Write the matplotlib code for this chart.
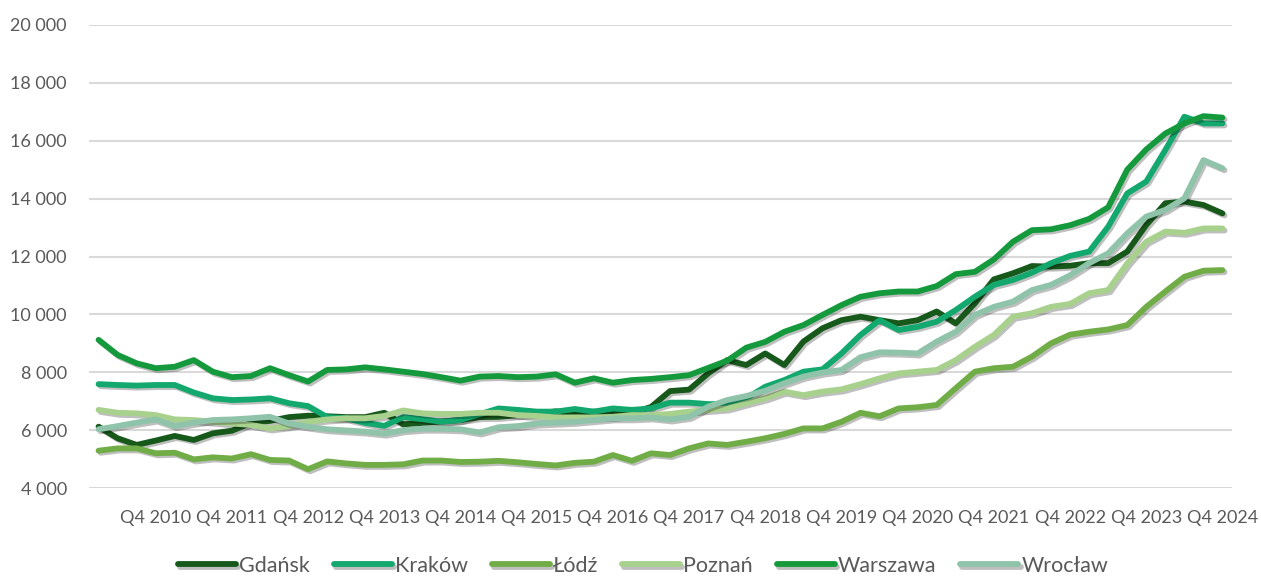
import matplotlib
matplotlib.use('Agg')
import matplotlib.pyplot as plt
import matplotlib.patheffects as pe
from matplotlib.ticker import FuncFormatter

# quarterly prices Q1 2010 .. Q4 2024
gdansk = [6120, 5720, 5490, 5640, 5800, 5660, 5890, 5980, 6250, 6320,
          6450, 6500, 6480, 6450, 6450, 6600, 6200, 6250, 6300, 6350,
          6450, 6460, 6520, 6560, 6650, 6580, 6640, 6620, 6600, 6800,
          7350, 7400, 7960, 8420, 8250, 8650, 8250, 9060, 9520, 9800,
          9920, 9800, 9690, 9800, 10100, 9690, 10380, 11210, 11420, 11670,
          11650, 11680, 11770, 11770, 12170, 13090, 13840, 13900, 13780, 13490]
krakow = [7590, 7560, 7540, 7560, 7560, 7300, 7100, 7040, 7060, 7100,
          6930, 6830, 6450, 6410, 6250, 6150, 6450, 6380, 6290, 6350,
          6550, 6750, 6700, 6640, 6640, 6730, 6640, 6750, 6700, 6750,
          6950, 6950, 6900, 6900, 7100, 7500, 7730, 8020, 8100, 8650,
          9290, 9800, 9460, 9570, 9750, 10150, 10610, 11020, 11190, 11440,
          11770, 12020, 12170, 13030, 14180, 14590, 15680, 16830, 16600, 16600]
lodz = [5290, 5370, 5370, 5200, 5220, 4990, 5060, 5020, 5170, 4970,
        4950, 4650, 4920, 4850, 4800, 4800, 4820, 4950, 4950, 4900,
        4910, 4940, 4890, 4830, 4780, 4870, 4910, 5140, 4940, 5200,
        5140, 5370, 5540, 5490, 5600, 5720, 5870, 6060, 6060, 6290,
        6600, 6480, 6750, 6790, 6870, 7450, 8020, 8140, 8190, 8540,
        9000, 9300, 9400, 9480, 9630, 10260, 10790, 11300, 11510, 11530]
poznan = [6700, 6600, 6580, 6520, 6370, 6350, 6290, 6230, 6180, 6060,
          6140, 6290, 6370, 6410, 6410, 6490, 6680, 6580, 6560, 6560,
          6600, 6600, 6520, 6490, 6440, 6440, 6440, 6460, 6520, 6520,
          6560, 6640, 6700, 6750, 6930, 7100, 7330, 7210, 7330, 7410,
          7590, 7790, 7960, 8020, 8080, 8420, 8880, 9290, 9920, 10040,
          10260, 10360, 10730, 10840, 11760, 12510, 12860, 12820, 12970, 12970]
warszawa = [9120, 8600, 8310, 8140, 8190, 8420, 8020, 7830, 7870, 8140,
            7900, 7680, 8080, 8100, 8170, 8100, 8020, 7940, 7830, 7710,
            7850, 7870, 7830, 7850, 7930, 7640, 7790, 7640, 7730, 7770,
            7830, 7900, 8150, 8400, 8850, 9050, 9400, 9630, 9980, 10320,
            10610, 10730, 10790, 10790, 10980, 11390, 11470, 11900, 12510, 12910,
            12940, 13080, 13300, 13700, 15000, 15700, 16250, 16600, 16850, 16800]
wroclaw = [6030, 6140, 6260, 6370, 6140, 6260, 6350, 6370, 6410, 6460,
           6230, 6120, 6030, 5990, 5950, 5880, 6000, 6050, 6050, 6030,
           5920, 6100, 6140, 6230, 6260, 6290, 6350, 6410, 6410, 6440,
           6370, 6460, 6810, 7040, 7180, 7360, 7620, 7850, 7990, 8080,
           8520, 8690, 8680, 8650, 9060, 9400, 9980, 10260, 10440, 10840,
           11020, 11350, 11770, 12110, 12800, 13380, 13610, 14010, 15330, 15050]

cities = ['Gdańsk', 'Kraków', 'Łódź', 'Poznań', 'Warszawa', 'Wrocław']
series = [gdansk, krakow, lodz, poznan, warszawa, wroclaw]
colors = ['#17581b', '#12a86e', '#70ad47', '#a9d18e', '#149a3c', '#8fc4aa']
years = list(range(2010, 2025))

plt.rcParams['font.family'] = ['Lato', 'DejaVu Sans']

fig = plt.figure(figsize=(12.61, 5.77), dpi=100)
ax = fig.add_axes([0.0706, 0.1542, 0.9064, 0.8025])

shadow = [pe.SimpleLineShadow(offset=(1.5, -1.5), shadow_color='#000000', alpha=0.25),
          pe.Normal()]
x = list(range(len(gdansk)))
for name, vals, c in zip(cities, series, colors):
    ax.plot(x, vals, color=c, lw=4.2, label=name, solid_capstyle='round',
            solid_joinstyle='round', path_effects=shadow)

ax.set_xlim(-0.5, len(x) - 0.5)
ax.set_ylim(4000, 20000)
ax.set_yticks(range(4000, 20001, 2000))
ax.yaxis.set_major_formatter(FuncFormatter(lambda v, p: f"{v:,.0f}".replace(",", " ")))
ax.set_xticks(range(3, len(x), 4))
ax.set_xticklabels([f"Q4 {y}" for y in years])
ax.grid(axis='y', color='#d9d9d9', lw=1.5)
ax.set_axisbelow(True)
for s in ax.spines.values():
    s.set_visible(False)
ax.tick_params(axis='both', length=0, labelsize=13, labelcolor='#595959')
ax.tick_params(axis='x', pad=16)
ax.tick_params(axis='y', pad=16)

fig.legend(loc='center', bbox_to_anchor=(0.51, 1 - 566 / 577), ncol=6, frameon=False,
           fontsize=15.5, labelcolor='#595959', handlelength=2.7, columnspacing=1.1,
           handletextpad=0.15)

fig.savefig('out.png', dpi=100)
